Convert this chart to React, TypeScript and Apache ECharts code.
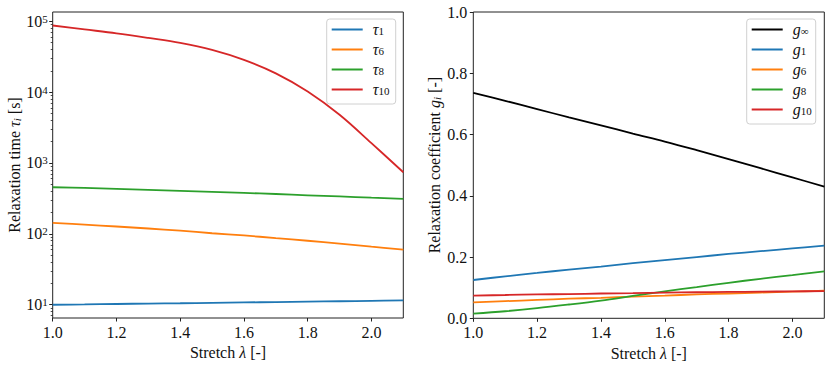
import React, { useEffect, useRef } from 'react';
import * as echarts from 'echarts';

// ---- data ----
const stretch = [1.0, 1.1, 1.2, 1.3, 1.4, 1.5, 1.6, 1.7, 1.8, 1.9, 2.0, 2.1];

const tau1 = [10.0, 10.1, 10.25, 10.4, 10.5, 10.65, 10.8, 10.9, 11.05, 11.2, 11.35, 11.5];
const tau6 = [143, 135, 127, 119, 111, 102, 95, 87, 80, 73, 66, 60];
const tau8 = [455, 445, 432, 418, 405, 392, 378, 365, 350, 337, 324, 312];
const tau10 = [87100, 76700, 67600, 58200, 49500, 39400, 28500, 18400, 10200, 4790, 1905, 741];

const gInf = [0.736, 0.71, 0.683, 0.656, 0.63, 0.603, 0.577, 0.549, 0.52, 0.49, 0.46, 0.43];
const g1 = [0.125, 0.137, 0.148, 0.159, 0.169, 0.18, 0.19, 0.2, 0.21, 0.219, 0.228, 0.237];
const g6 = [0.052, 0.056, 0.06, 0.064, 0.067, 0.071, 0.074, 0.078, 0.081, 0.084, 0.087, 0.09];
const g8 = [0.015, 0.023, 0.033, 0.045, 0.058, 0.073, 0.088, 0.102, 0.116, 0.129, 0.141, 0.153];
const g10 = [0.074, 0.076, 0.078, 0.079, 0.081, 0.082, 0.084, 0.085, 0.086, 0.087, 0.088, 0.089];

const xTicks = [1.0, 1.2, 1.4, 1.6, 1.8, 2.0];
const tauMajorTicks = [10, 100, 1000, 10000, 100000];
const tauMinorTicks = [
  7, 8, 9,
  20, 30, 40, 50, 60, 70, 80, 90,
  200, 300, 400, 500, 600, 700, 800, 900,
  2000, 3000, 4000, 5000, 6000, 7000, 8000, 9000,
  20000, 30000, 40000, 50000, 60000, 70000, 80000, 90000,
];
const gTicks = [0, 0.2, 0.4, 0.6, 0.8, 1.0];

const tauSeries = [
  { name: 'τ1', sub: '1', data: tau1, color: '#1f77b4' },
  { name: 'τ6', sub: '6', data: tau6, color: '#ff7f0e' },
  { name: 'τ8', sub: '8', data: tau8, color: '#2ca02c' },
  { name: 'τ10', sub: '10', data: tau10, color: '#d62728' },
];
const gSeries = [
  { name: 'g∞', sub: '∞', data: gInf, color: '#000000' },
  { name: 'g1', sub: '1', data: g1, color: '#1f77b4' },
  { name: 'g6', sub: '6', data: g6, color: '#ff7f0e' },
  { name: 'g8', sub: '8', data: g8, color: '#2ca02c' },
  { name: 'g10', sub: '10', data: g10, color: '#d62728' },
];

const FONT = 'Liberation Serif';
const TXT = '#111111';

const nameRich = {
  n: { fontFamily: FONT, fontSize: 16, color: TXT, lineHeight: 16 },
  m: { fontFamily: FONT, fontSize: 16, fontStyle: 'italic', color: TXT, lineHeight: 16 },
  sub: { fontFamily: FONT, fontSize: 11, fontStyle: 'italic', color: TXT, lineHeight: 8, verticalAlign: 'bottom' },
};

const powRich = {
  b: { fontFamily: FONT, fontSize: 16, color: TXT, lineHeight: 16 },
  p: { fontFamily: FONT, fontSize: 11, color: TXT, lineHeight: 10, verticalAlign: 'top' },
};

const numRich = {
  b: { fontFamily: FONT, fontSize: 16, color: TXT, lineHeight: 16 },
};

const legendRich = {
  m: { fontFamily: FONT, fontSize: 16, fontStyle: 'italic', color: TXT, lineHeight: 14, padding: [0, 0, 0, 5] },
  s: { fontFamily: FONT, fontSize: 11, color: TXT, lineHeight: 6, verticalAlign: 'bottom' },
};

function buildOption() {
  const line = (s: any, xi: number, yi: number) => ({
    type: 'line',
    name: s.name,
    xAxisIndex: xi,
    yAxisIndex: yi,
    data: stretch.map((x, i) => [x, s.data[i]]),
    showSymbol: false,
    smooth: 0.35,
    lineStyle: { width: 1.8, color: s.color },
    itemStyle: { color: s.color },
    z: 3,
  });

  const subOf = (list: any[]) => (name: string) => {
    const s = list.find((q) => q.name === name);
    const base = name.charAt(0);
    return `{m|${base}}{s|${s ? s.sub : ''}}`;
  };

  const legendCommon = {
    orient: 'vertical',
    icon: 'rect',
    itemWidth: 31,
    itemHeight: 2,
    itemGap: 4,
    backgroundColor: 'rgba(255,255,255,0.85)',
    borderColor: '#d0d0d0',
    borderWidth: 1,
    borderRadius: 3,
    textStyle: { rich: legendRich, width: 24, lineHeight: 16 },
    selectedMode: false,
  };

  const xAxisCommon = (gi: number) => ({
    type: 'value',
    gridIndex: gi,
    min: 1.0,
    max: 2.1,
    axisLine: { show: false },
    splitLine: { show: false },
    axisTick: { show: true, length: 3.5, lineStyle: { color: '#222', width: 1 }, customValues: xTicks },
    axisLabel: {
      customValues: xTicks,
      margin: 6,
      formatter: (v: number) => `{b|${v.toFixed(1)}}`,
      rich: numRich,
    },
    name: '{n|Stretch }{m|λ}{n| [-]}',
    nameLocation: 'middle',
    nameGap: 21,
    nameTextStyle: { rich: nameRich },
  });

  return {
    animation: false,
    backgroundColor: '#ffffff',
    grid: [
      { left: 52.7, top: 12, width: 350.6, height: 306, show: true, borderColor: '#222', borderWidth: 1, backgroundColor: 'transparent', outerBoundsMode: 'none' },
      { left: 473.3, top: 12, width: 351, height: 306.3, show: true, borderColor: '#222', borderWidth: 1, backgroundColor: 'transparent', outerBoundsMode: 'none' },
    ],
    legend: [
      { ...legendCommon, left: 326.7, top: 19, padding: [2.5, 4, 6.5, 5], data: tauSeries.map((s) => s.name), formatter: subOf(tauSeries) },
      { ...legendCommon, left: 746.7, top: 19, padding: [2.5, 4, 6.5, 5], data: gSeries.map((s) => s.name), formatter: subOf(gSeries) },
    ],
    xAxis: [xAxisCommon(0), xAxisCommon(1)],
    yAxis: [
      {
        type: 'log',
        gridIndex: 0,
        min: 6.5,
        max: 135000,
        logBase: 10,
        axisLine: { show: false },
        splitLine: { show: false },
        minorTick: { show: false },
        axisTick: { show: true, length: 3.5, lineStyle: { color: '#222', width: 1 }, customValues: tauMajorTicks },
        axisLabel: {
          customValues: tauMajorTicks,
          margin: 5,
          formatter: (v: number) => `{b|10}{p|${Math.round(Math.log10(v))}}`,
          rich: powRich,
        },
        name: '{n|Relaxation time }{m|τ}{sub|i}{n| [s]}',
        nameLocation: 'middle',
        nameGap: 30,
        nameTextStyle: { rich: nameRich },
      },
      {
        type: 'log',
        gridIndex: 0,
        position: 'left',
        offset: 0,
        min: 6.5,
        max: 135000,
        logBase: 10,
        axisLine: { show: false },
        splitLine: { show: false },
        axisTick: { show: true, length: 2, lineStyle: { color: '#222', width: 0.8 }, customValues: tauMinorTicks },
        axisLabel: { show: false },
      },
      {
        type: 'value',
        gridIndex: 1,
        min: 0,
        max: 1.0,
        interval: 0.2,
        axisLine: { show: false },
        splitLine: { show: false },
        axisTick: { show: true, length: 3.5, lineStyle: { color: '#222', width: 1 }, customValues: gTicks },
        axisLabel: {
          customValues: gTicks,
          margin: 6,
          formatter: (v: number) => `{b|${v.toFixed(1)}}`,
          rich: numRich,
        },
        name: '{n|Relaxation coefficient }{m|g}{sub|i}{n| [-]}',
        nameLocation: 'middle',
        nameGap: 30.5,
        nameTextStyle: { rich: nameRich },
      },
    ],
    series: [
      ...tauSeries.map((s) => line(s, 0, 0)),
      ...gSeries.map((s) => line(s, 1, 2)),
    ],
  };
}

export default function App() {
  const ref = useRef<HTMLDivElement>(null);
  useEffect(() => {
    if (!ref.current) return;
    const chart = echarts.init(ref.current, undefined, { renderer: 'svg' });
    chart.setOption(buildOption() as any);
    return () => chart.dispose();
  }, []);
  return (
    <div
      ref={ref}
      style={{ position: 'fixed', left: 0, top: 0, width: 831, height: 365, background: '#fff' }}
    />
  );
}
